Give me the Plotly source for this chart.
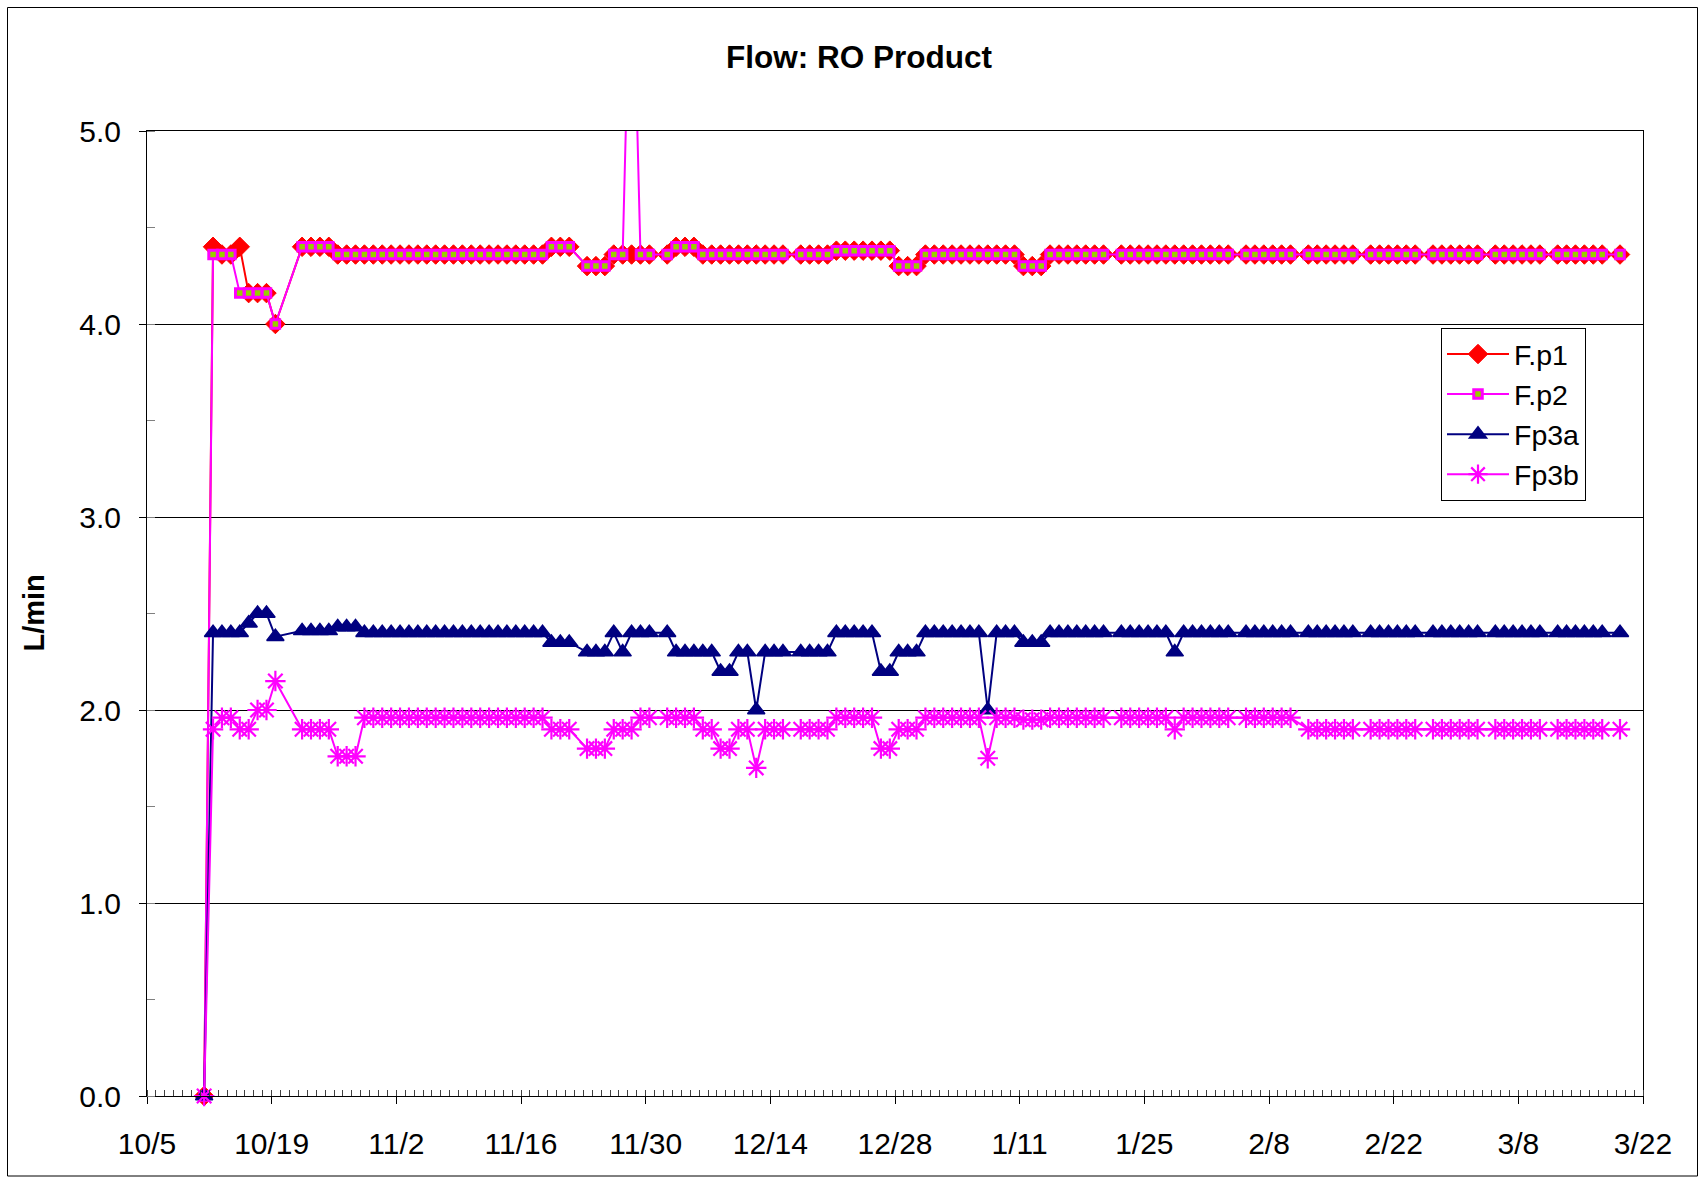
import pandas as pd
import plotly.graph_objects as go

N = None

# Daily readings (10:00) from 10/11 to 3/19; None = no reading that day
dates = pd.date_range("2000-10-11 10:00", "2001-03-19 10:00", freq="D")

fp1 = [
    0.00, 4.40, 4.36, 4.36, 4.40, 4.16, 4.16, 4.16, 4.00, N,
    N, 4.40, 4.40, 4.40, 4.40, 4.36, 4.36, 4.36, 4.36, 4.36,
    4.36, 4.36, 4.36, 4.36, 4.36, 4.36, 4.36, 4.36, 4.36, 4.36,
    4.36, 4.36, 4.36, 4.36, 4.36, 4.36, 4.36, 4.36, 4.36, 4.40,
    4.40, 4.40, N, 4.30, 4.30, 4.30, 4.36, 4.36, 4.36, 4.36,
    4.36, N, 4.36, 4.40, 4.40, 4.40, 4.36, 4.36, 4.36, 4.36,
    4.36, 4.36, 4.36, 4.36, 4.36, 4.36, N, 4.36, 4.36, 4.36,
    4.36, 4.38, 4.38, 4.38, 4.38, 4.38, 4.38, 4.38, 4.30, 4.30,
    4.30, 4.36, 4.36, 4.36, 4.36, 4.36, 4.36, 4.36, 4.36, 4.36,
    4.36, 4.36, 4.30, 4.30, 4.30, 4.36, 4.36, 4.36, 4.36, 4.36,
    4.36, 4.36, N, 4.36, 4.36, 4.36, 4.36, 4.36, 4.36, 4.36,
    4.36, 4.36, 4.36, 4.36, 4.36, 4.36, N, 4.36, 4.36, 4.36,
    4.36, 4.36, 4.36, N, 4.36, 4.36, 4.36, 4.36, 4.36, 4.36,
    N, 4.36, 4.36, 4.36, 4.36, 4.36, 4.36, N, 4.36, 4.36,
    4.36, 4.36, 4.36, 4.36, N, 4.36, 4.36, 4.36, 4.36, 4.36,
    4.36, N, 4.36, 4.36, 4.36, 4.36, 4.36, 4.36, N, 4.36,
]

fp2 = [
    0.00, 4.36, 4.36, 4.36, 4.16, 4.16, 4.16, 4.16, 4.00, N,
    N, 4.40, 4.40, 4.40, 4.40, 4.36, 4.36, 4.36, 4.36, 4.36,
    4.36, 4.36, 4.36, 4.36, 4.36, 4.36, 4.36, 4.36, 4.36, 4.36,
    4.36, 4.36, 4.36, 4.36, 4.36, 4.36, 4.36, 4.36, 4.36, 4.40,
    4.40, 4.40, N, 4.30, 4.30, 4.30, 4.36, 4.36, 6.20, 4.36,
    4.36, N, 4.36, 4.40, 4.40, 4.40, 4.36, 4.36, 4.36, 4.36,
    4.36, 4.36, 4.36, 4.36, 4.36, 4.36, N, 4.36, 4.36, 4.36,
    4.36, 4.38, 4.38, 4.38, 4.38, 4.38, 4.38, 4.38, 4.30, 4.30,
    4.30, 4.36, 4.36, 4.36, 4.36, 4.36, 4.36, 4.36, 4.36, 4.36,
    4.36, 4.36, 4.30, 4.30, 4.30, 4.36, 4.36, 4.36, 4.36, 4.36,
    4.36, 4.36, N, 4.36, 4.36, 4.36, 4.36, 4.36, 4.36, 4.36,
    4.36, 4.36, 4.36, 4.36, 4.36, 4.36, N, 4.36, 4.36, 4.36,
    4.36, 4.36, 4.36, N, 4.36, 4.36, 4.36, 4.36, 4.36, 4.36,
    N, 4.36, 4.36, 4.36, 4.36, 4.36, 4.36, N, 4.36, 4.36,
    4.36, 4.36, 4.36, 4.36, N, 4.36, 4.36, 4.36, 4.36, 4.36,
    4.36, N, 4.36, 4.36, 4.36, 4.36, 4.36, 4.36, N, 4.36,
]

fp3a = [
    0.00, 2.40, 2.40, 2.40, 2.40, 2.45, 2.50, 2.50, 2.38, N,
    N, 2.41, 2.41, 2.41, 2.41, 2.43, 2.43, 2.43, 2.40, 2.40,
    2.40, 2.40, 2.40, 2.40, 2.40, 2.40, 2.40, 2.40, 2.40, 2.40,
    2.40, 2.40, 2.40, 2.40, 2.40, 2.40, 2.40, 2.40, 2.40, 2.35,
    2.35, 2.35, N, 2.30, 2.30, 2.30, 2.40, 2.30, 2.40, 2.40,
    2.40, N, 2.40, 2.30, 2.30, 2.30, 2.30, 2.30, 2.20, 2.20,
    2.30, 2.30, 2.00, 2.30, 2.30, 2.30, N, 2.30, 2.30, 2.30,
    2.30, 2.40, 2.40, 2.40, 2.40, 2.40, 2.20, 2.20, 2.30, 2.30,
    2.30, 2.40, 2.40, 2.40, 2.40, 2.40, 2.40, 2.40, 2.00, 2.40,
    2.40, 2.40, 2.35, 2.35, 2.35, 2.40, 2.40, 2.40, 2.40, 2.40,
    2.40, 2.40, N, 2.40, 2.40, 2.40, 2.40, 2.40, 2.40, 2.30,
    2.40, 2.40, 2.40, 2.40, 2.40, 2.40, N, 2.40, 2.40, 2.40,
    2.40, 2.40, 2.40, N, 2.40, 2.40, 2.40, 2.40, 2.40, 2.40,
    N, 2.40, 2.40, 2.40, 2.40, 2.40, 2.40, N, 2.40, 2.40,
    2.40, 2.40, 2.40, 2.40, N, 2.40, 2.40, 2.40, 2.40, 2.40,
    2.40, N, 2.40, 2.40, 2.40, 2.40, 2.40, 2.40, N, 2.40,
]

fp3b = [
    0.00, 1.90, 1.96, 1.96, 1.90, 1.90, 2.00, 2.00, 2.15, N,
    N, 1.90, 1.90, 1.90, 1.90, 1.76, 1.76, 1.76, 1.96, 1.96,
    1.96, 1.96, 1.96, 1.96, 1.96, 1.96, 1.96, 1.96, 1.96, 1.96,
    1.96, 1.96, 1.96, 1.96, 1.96, 1.96, 1.96, 1.96, 1.96, 1.90,
    1.90, 1.90, N, 1.80, 1.80, 1.80, 1.90, 1.90, 1.90, 1.96,
    1.96, N, 1.96, 1.96, 1.96, 1.96, 1.90, 1.90, 1.80, 1.80,
    1.90, 1.90, 1.70, 1.90, 1.90, 1.90, N, 1.90, 1.90, 1.90,
    1.90, 1.96, 1.96, 1.96, 1.96, 1.96, 1.80, 1.80, 1.90, 1.90,
    1.90, 1.96, 1.96, 1.96, 1.96, 1.96, 1.96, 1.96, 1.75, 1.96,
    1.96, 1.96, 1.95, 1.95, 1.95, 1.96, 1.96, 1.96, 1.96, 1.96,
    1.96, 1.96, N, 1.96, 1.96, 1.96, 1.96, 1.96, 1.96, 1.90,
    1.96, 1.96, 1.96, 1.96, 1.96, 1.96, N, 1.96, 1.96, 1.96,
    1.96, 1.96, 1.96, N, 1.90, 1.90, 1.90, 1.90, 1.90, 1.90,
    N, 1.90, 1.90, 1.90, 1.90, 1.90, 1.90, N, 1.90, 1.90,
    1.90, 1.90, 1.90, 1.90, N, 1.90, 1.90, 1.90, 1.90, 1.90,
    1.90, N, 1.90, 1.90, 1.90, 1.90, 1.90, 1.90, N, 1.90,
]

series_names = ["F.p1", "F.p2", "Fp3a", "Fp3b"]
x_range = ["2000-10-05", "2001-03-22"]
y_ticks = [0, 1, 2, 3, 4, 5]

# page geometry (px)
W, H = 1705, 1179
ML, MR, MT, MB = 147, 62, 131, 83
PW, PH = W - ML - MR, H - MT - MB


def px_x(px):
    return (px - ML) / PW


def px_y(py):
    return (H - MB - py) / PH


FONT = "Arial, Liberation Sans, sans-serif"

fig = go.Figure()

fig.add_trace(go.Scatter(
    x=dates, y=fp1, name=series_names[0], mode="lines+markers",
    connectgaps=True, cliponaxis=False,
    line=dict(color="#FF0000", width=2),
    marker=dict(symbol="diamond", size=15, color="#FF0000",
                line=dict(color="#FF0000", width=1)),
))
fig.add_trace(go.Scatter(
    x=dates, y=fp2, name=series_names[1], mode="lines+markers",
    connectgaps=True, cliponaxis=False,
    line=dict(color="#FF00FF", width=2),
    marker=dict(symbol="square", size=8.5, color="#99CC00",
                line=dict(color="#FF00FF", width=3)),
))
fig.add_trace(go.Scatter(
    x=dates, y=fp3a, name=series_names[2], mode="lines+markers",
    connectgaps=True, cliponaxis=False,
    line=dict(color="#000080", width=2),
    marker=dict(symbol="triangle-up", size=15, color="#000080",
                line=dict(color="#000080", width=1.5)),
))
fig.add_trace(go.Scatter(
    x=dates, y=fp3b, name=series_names[3], mode="lines+markers",
    connectgaps=True, cliponaxis=False,
    line=dict(color="#FF00FF", width=2),
    marker=dict(symbol="asterisk-open", size=17, color="#FF00FF",
                line=dict(color="#FF00FF", width=2.2)),
))

fig.update_layout(
    width=W, height=H,
    margin=dict(l=ML, r=MR, t=MT, b=MB, pad=0),
    paper_bgcolor="white", plot_bgcolor="white",
    font=dict(family=FONT, size=30, color="black"),
    title=dict(text="<b>Flow: RO Product</b>", x=859 / W, xanchor="center",
               y=1 - 57 / H, yanchor="middle", xref="container", yref="container",
               font=dict(family=FONT, size=31.5, color="black")),
    showlegend=True,
    legend=dict(x=px_x(1441), y=px_y(328), xanchor="left", yanchor="top",
                bgcolor="white", bordercolor="black", borderwidth=1,
                font=dict(family=FONT, size=28.5, color="black"),
                tracegroupgap=0, itemwidth=62),
    xaxis=dict(
        type="date", range=x_range, tick0=x_range[0], dtick=14 * 86400000,
        tickformat="%-m/%-d", showgrid=False, zeroline=False,
        showline=True, linecolor="black", linewidth=1, mirror=True,
        ticks="outside", ticklen=7, tickcolor="black", ticklabelstandoff=14,
        tickfont=dict(family=FONT, size=30, color="black"),
        minor=dict(ticks="inside", ticklen=6, dtick=86400000, tick0=x_range[0],
                   tickcolor="#404040", showgrid=False),
    ),
    yaxis=dict(
        range=[0, 5], tickvals=y_ticks, tickformat=".1f",
        showgrid=True, gridcolor="black", gridwidth=1, zeroline=False,
        showline=True, linecolor="black", linewidth=1, mirror=True,
        ticks="outside", ticklen=7, tickcolor="black", ticklabelstandoff=12,
        tickfont=dict(family=FONT, size=30, color="black"),
        minor=dict(ticks="inside", ticklen=8, dtick=0.5, tick0=0,
                   tickcolor="#808080", showgrid=False),
    ),
    annotations=[dict(
        text="<b>L/min</b>", textangle=-90, xref="paper", yref="paper",
        x=px_x(33), y=0.5, xanchor="center", yanchor="middle", showarrow=False,
        font=dict(family=FONT, size=29, color="black"),
    )],
    shapes=[dict(
        type="rect", xref="paper", yref="paper",
        x0=px_x(7.5), x1=px_x(1697.5), y0=px_y(1176), y1=px_y(7.5),
        line=dict(color="black", width=1), fillcolor="rgba(0,0,0,0)", layer="below",
    )],
)

fig.write_html("out.html")
